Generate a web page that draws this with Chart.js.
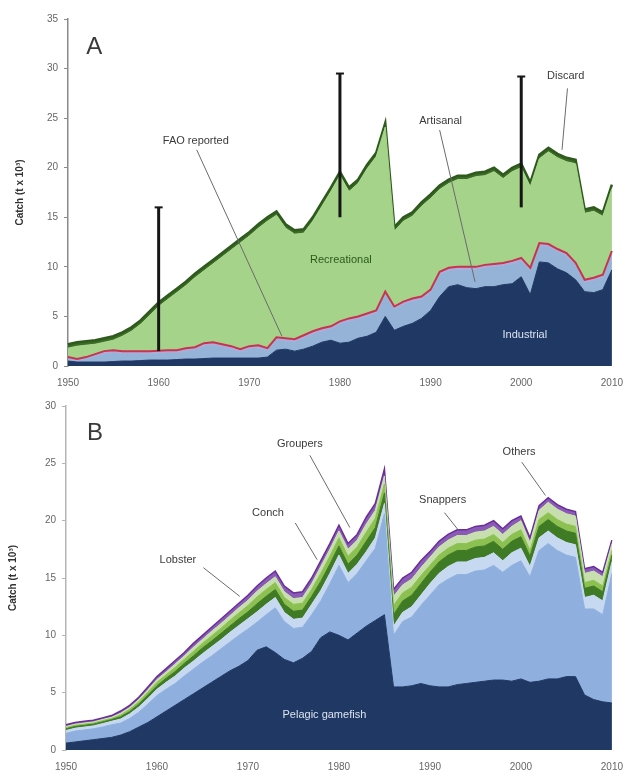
<!DOCTYPE html>
<html>
<head>
<meta charset="utf-8">
<script src="https://cdn.jsdelivr.net/npm/chart.js@4"></script>
<style>
  html, body { margin:0; padding:0; background:#fff; }
  .box { position:absolute; left:0; width:626px; }
  #boxA { top:0; height:392px; }
  #boxB { top:392px; height:385px; }
</style>
</head>
<body>
<div class="box" id="boxA"><canvas id="chartA"></canvas></div>
<div class="box" id="boxB"><canvas id="chartB"></canvas></div>
<script>
// ── categories ────────────────────────────────
const years = Array.from({ length: 61 }, (_, i) => 1950 + i);
const yTicksA = [0, 5, 10, 15, 20, 25, 30, 35];
const yTicksB = [0, 5, 10, 15, 20, 25, 30];

// ── panel A: catch by sector (t x 10^3) ───────
const industrial = [0.5,0.4,0.4,0.4,0.4,0.45,0.5,0.5,0.55,0.6, 0.6,0.6,0.65,0.7,0.7,0.75,0.8,0.8,0.8,0.8, 0.8,0.8,0.9,1.6,1.7,1.5,1.7,2.0,2.4,2.6, 2.3,2.4,2.8,3.0,3.4,5.0,3.6,4.0,4.3,4.8, 5.6,7.0,8.0,8.2,7.9,7.8,8.0,8.0,8.2,8.3, 9.0,7.2,10.5,10.4,9.8,9.4,8.7,7.5,7.4,7.7, 9.7];
const artisanal  = [0.2,0.1,0.3,0.55,0.8,0.85,0.7,0.7,0.65,0.6, 0.65,0.7,0.65,0.8,0.9,1.25,1.3,1.1,0.9,0.6, 0.9,1.0,0.6,1.0,0.8,0.9,1.1,1.2,1.1,1.1, 1.9,2.1,1.9,2.0,1.9,2.2,2.1,2.2,2.2,1.9, 1.8,2.2,1.6,1.5,1.8,1.9,1.9,2.0,1.9,2.0, 1.6,2.4,1.6,1.6,1.7,1.7,1.4,0.9,1.2,1.2, 1.6];
const subsistence= [0.2,0.2,0.2,0.25,0.3,0.3,0.3,0.3,0.3,0.3, 0.3,0.3,0.3,0.3,0.3,0.3,0.3,0.3,0.3,0.3, 0.3,0.3,0.3,0.3,0.3,0.3,0.3,0.3,0.3,0.3, 0.3,0.3,0.3,0.3,0.3,0.3,0.3,0.3,0.3,0.3, 0.3,0.3,0.3,0.3,0.3,0.3,0.3,0.3,0.3,0.3, 0.3,0.3,0.3,0.3,0.3,0.3,0.3,0.3,0.3,0.3, 0.3];
const recreational=[0.9,1.3,1.2,1.0,0.9,1.0,1.5,2.0,2.7,3.6, 4.45,5.1,5.8,6.3,7.0,7.3,7.9,8.8,9.7,10.7, 11.1,11.8,12.8,12.3,11.1,10.6,10.3,11.1,12.3,13.6, 14.7,12.8,13.4,14.6,15.5,16.6,7.6,8.1,8.3,9.1, 9.2,8.3,8.5,8.8,8.8,9.1,9.0,9.3,8.5,9.0, 9.1,8.2,8.5,9.3,9.2,9.2,10.0,6.7,6.7,5.9, 6.3];
const discard    = [0.4,0.4,0.4,0.4,0.4,0.4,0.4,0.4,0.4,0.4, 0.4,0.4,0.4,0.4,0.4,0.4,0.4,0.4,0.4,0.4, 0.4,0.4,0.4,0.4,0.4,0.4,0.4,0.4,0.4,0.4, 0.4,0.4,0.4,0.4,0.4,0.4,0.4,0.4,0.4,0.4, 0.4,0.4,0.4,0.4,0.4,0.4,0.4,0.4,0.4,0.4, 0.4,0.4,0.4,0.4,0.4,0.4,0.4,0.4,0.4,0.4, 0.4];
const faoReported= [0.9,0.7,0.9,1.2,1.5,1.6,1.5,1.5,1.5,1.5, 1.55,1.6,1.6,1.8,1.9,2.3,2.4,2.2,2.0,1.7, 2.0,2.1,1.8,2.9,2.8,2.7,3.1,3.5,3.8,4.0, 4.5,4.8,5.0,5.3,5.6,7.5,6.0,6.5,6.8,7.0, 7.7,9.5,9.9,10.0,10.0,10.0,10.2,10.3,10.4,10.6, 10.9,9.9,12.4,12.3,11.8,11.4,10.4,8.7,8.9,9.2, 11.6];

// reconstructed-range bars
const errYears = [1960, 1980, 2000];
const errLow   = [1.5, 15.0, 16.0];
const errHigh  = [16.0, 29.5, 29.2];

// ── panel B: recreational catch by taxon ──────
const pelagic  = [0.6,0.7,0.8,0.9,1.0,1.1,1.3,1.6,2.0,2.4, 2.9,3.4,3.9,4.4,4.9,5.4,5.9,6.4,6.9,7.3, 7.8,8.7,9.0,8.5,7.9,7.6,8.0,8.6,9.8,10.3, 10.0,9.6,10.2,10.8,11.3,11.8,5.5,5.5,5.6,5.8, 5.6,5.5,5.5,5.7,5.8,5.9,6.0,6.1,6.1,6.0, 6.2,5.9,6.0,6.2,6.2,6.4,6.4,4.8,4.4,4.2, 4.1];
const otherFish= [0.85,0.95,0.95,0.95,1.0,1.1,1.05,1.15,1.3,1.6, 1.85,1.9,1.9,2.05,2.15,2.25,2.3,2.4,2.5,2.7, 2.75,2.45,2.8,3.9,3.3,3.0,2.7,3.2,3.2,4.2, 6.1,5.0,5.2,5.7,6.3,8.8,4.5,5.7,6.0,6.8, 7.9,8.9,9.4,9.6,9.5,9.7,9.7,10.0,9.4,10.1, 10.3,9.2,11.4,11.8,11.2,10.6,10.4,7.5,7.9,7.6, 11.3];
const lobster  = [0.25,0.25,0.25,0.25,0.3,0.3,0.35,0.4,0.45,0.5, 0.55,0.6,0.65,0.7,0.7,0.75,0.8,0.8,0.85,0.85, 0.9,0.9,0.9,0.9,0.8,0.8,0.8,0.9,0.9,0.9, 0.9,0.8,0.8,0.8,0.9,0.9,0.8,0.8,0.9,0.9, 1.0,1.0,1.1,1.1,1.1,1.1,1.1,1.1,1.0,1.1, 1.1,0.9,1.1,1.1,1.1,1.1,1.1,1.0,1.2,1.2, 1.0];
const conch    = [0.15,0.15,0.15,0.15,0.15,0.15,0.2,0.2,0.25,0.3, 0.3,0.35,0.4,0.4,0.45,0.5,0.5,0.55,0.55,0.6, 0.6,0.7,0.7,0.7,0.7,0.7,0.7,0.7,0.8,0.8, 0.8,0.8,0.8,0.9,0.9,0.9,1.0,1.0,1.0,1.0, 1.0,1.0,1.0,1.0,1.0,1.0,1.0,1.0,1.0,1.0, 1.0,0.9,1.0,1.0,1.0,1.0,1.0,0.8,0.8,0.8, 0.6];
const groupers = [0.1,0.1,0.1,0.1,0.1,0.1,0.15,0.2,0.2,0.25, 0.3,0.3,0.35,0.35,0.4,0.4,0.45,0.45,0.5,0.5, 0.55,0.6,0.6,0.6,0.6,0.6,0.6,0.6,0.7,0.7, 0.7,0.7,0.7,0.8,0.8,0.8,0.8,0.7,0.7,0.7, 0.6,0.6,0.6,0.6,0.6,0.6,0.6,0.6,0.6,0.6, 0.6,0.5,0.6,0.6,0.6,0.6,0.6,0.5,0.5,0.5, 0.4];
const snappers = [0.1,0.1,0.1,0.1,0.1,0.1,0.15,0.15,0.2,0.2, 0.25,0.25,0.3,0.3,0.35,0.35,0.4,0.4,0.4,0.45, 0.45,0.5,0.5,0.5,0.5,0.5,0.5,0.5,0.6,0.6, 0.6,0.6,0.6,0.7,0.7,0.7,0.8,0.7,0.7,0.7, 0.7,0.7,0.7,0.7,0.7,0.7,0.7,0.7,0.7,0.7, 0.8,0.7,0.8,0.9,0.9,0.9,0.9,0.8,0.8,0.8, 0.6];
const others   = [0.15,0.15,0.15,0.15,0.15,0.15,0.2,0.2,0.2,0.25, 0.25,0.3,0.3,0.3,0.35,0.35,0.35,0.4,0.4,0.4, 0.45,0.45,0.5,0.5,0.5,0.5,0.5,0.5,0.5,0.5, 0.5,0.5,0.5,0.6,0.6,0.6,0.6,0.6,0.6,0.6, 0.5,0.5,0.5,0.5,0.5,0.5,0.5,0.5,0.5,0.5, 0.4,0.4,0.4,0.4,0.4,0.4,0.4,0.4,0.4,0.4, 0.3];

// ── annotations (data coordinates: year, value) ──
const notesA = [
  { text:'A', at:[1952.9, 32.1], size:24 },
  { text:'FAO reported', at:[1964.1, 22.7], line:[[1964.2, 21.8],[1973.6, 3.0]] },
  { text:'Artisanal', at:[1991.1, 24.7], line:[[1991.0, 23.8],[1994.9, 8.5]] },
  { text:'Discard', at:[2004.9, 29.3], line:[[2005.1, 28.0],[2004.5, 21.8]] },
  { text:'Recreational', at:[1980.1, 10.7], color:'#2b5b1c' },
  { text:'Industrial', at:[2000.4, 3.1], color:'#dbe3ef' }
];
const notesB = [
  { text:'B', at:[1953.2, 27.6], size:24 },
  { text:'Groupers', at:[1975.7, 26.7], line:[[1976.8, 25.7],[1981.2, 19.4]] },
  { text:'Conch', at:[1972.2, 20.7], line:[[1975.2, 19.8],[1977.6, 16.6]] },
  { text:'Lobster', at:[1962.3, 16.6], line:[[1965.1, 15.9],[1969.1, 13.4]] },
  { text:'Snappers', at:[1991.4, 21.8], line:[[1991.6, 20.7],[1993.1, 19.2]] },
  { text:'Others', at:[1999.8, 26.0], line:[[2000.1, 25.1],[2002.7, 22.2]] },
  { text:'Pelagic gamefish', at:[1978.4, 3.05], color:'#dbe3ef' }
];

const FONT = "'Liberation Sans', Arial, sans-serif";

function notesPlugin(notes, withErr) {
  return {
    id: 'notes',
    afterDatasetsDraw(chart) {
      const c = chart.ctx, xs = chart.scales.x, ys = chart.scales.y;
      const px = yr => xs.getPixelForValue(yr - 1950);
      const py = v => ys.getPixelForValue(v);
      c.save();
      if (withErr) {
        c.strokeStyle = '#161616';
        errYears.forEach((yr, i) => {
          const x = px(yr), y0 = py(errLow[i]), y1 = py(errHigh[i]);
          c.lineWidth = 3;
          c.beginPath(); c.moveTo(x, y0); c.lineTo(x, y1); c.stroke();
          c.lineWidth = 2;
          c.beginPath(); c.moveTo(x - 4, y1); c.lineTo(x + 4, y1); c.stroke();
        });
      }
      notes.forEach(n => {
        if (n.line) {
          c.strokeStyle = '#6b6b6b';
          c.lineWidth = 1;
          c.beginPath();
          c.moveTo(px(n.line[0][0]), py(n.line[0][1]));
          c.lineTo(px(n.line[1][0]), py(n.line[1][1]));
          c.stroke();
        }
        c.fillStyle = n.color || '#3a3a3a';
        c.font = (n.size || 11) + 'px ' + FONT;
        c.textAlign = 'center';
        c.textBaseline = 'middle';
        c.fillText(n.text, px(n.at[0]), py(n.at[1]));
      });
      c.restore();
    }
  };
}

function area(label, data, color, fill, border, bw) {
  return {
    label, data, fill,
    backgroundColor: color,
    borderColor: border || color,
    borderWidth: bw || 1,
    pointRadius: 0, tension: 0
  };
}

function baseOptions(yMax, yw, padTop, padRight, xh, titlePad, axisColor) {
  return {
    responsive: true, maintainAspectRatio: false, animation: false,
    layout: { padding: { top: padTop, right: padRight, left: 0, bottom: 0 } },
    plugins: { legend: { display: false }, tooltip: { enabled: false } },
    scales: {
      x: {
        grid: { display: false }, border: { display: false },
        afterFit: s => { s.height = xh; },
        ticks: {
          autoSkip: false, maxRotation: 0, padding: 3,
          color: '#666', font: { family: FONT, size: 10 },
          callback: (v, i) => years[i] % 10 === 0 ? String(years[i]) : null
        }
      },
      y: {
        stacked: true, min: 0, max: yMax,
        afterFit: s => { s.width = yw; },
        grid: { display: true, drawOnChartArea: false, tickLength: 4, color: axisColor },
        border: { display: true, color: axisColor, width: 1.5 },
        ticks: { stepSize: 5, color: '#666', padding: 6, font: { family: FONT, size: 10 } },
        title: { display: true, text: 'Catch (t x 10³)', color: '#333', padding: { top: titlePad, bottom: 0 },
                 font: { family: FONT, size: 10, weight: 'bold' } }
      }
    }
  };
}

new Chart(document.getElementById('chartA'), {
  type: 'line',
  data: {
    labels: years,
    datasets: [
      area('Industrial', industrial, '#203864', 'origin'),
      area('Artisanal', artisanal, '#95b3d7', '-1'),
      area('Subsistence', subsistence, '#b6a8d8', '-1'),
      area('Recreational', recreational, '#a6d38a', '-1'),
      area('Discard', discard, '#3b6b26', '-1', '#2f5a1d', 2.5),
      { label: 'FAO reported', data: faoReported, stack: 'fao', fill: false, order: -1,
        borderColor: '#c8334f', borderWidth: 2, pointRadius: 0, tension: 0 }
    ]
  },
  options: baseOptions(yTicksA[yTicksA.length - 1], 68, 19, 12, 26, 14, '#8a8a8a'),
  plugins: [notesPlugin(notesA, true)]
});

new Chart(document.getElementById('chartB'), {
  type: 'line',
  data: {
    labels: years,
    datasets: [
      area('Pelagic gamefish', pelagic, '#203864', 'origin'),
      area('Other fish', otherFish, '#8fb0de', '-1'),
      area('Lobster', lobster, '#c6d9f1', '-1'),
      area('Conch', conch, '#3f7a24', '-1'),
      area('Groupers', groupers, '#8cc152', '-1'),
      area('Snappers', snappers, '#c7dfae', '-1'),
      area('Others', others, '#8a5bb5', '-1', '#6a2d9a', 1.5)
    ]
  },
  options: baseOptions(yTicksB[yTicksB.length - 1], 66, 14, 14, 27, 7, '#b5b5b5'),
  plugins: [notesPlugin(notesB, false)]
});
</script>
</body>
</html>
